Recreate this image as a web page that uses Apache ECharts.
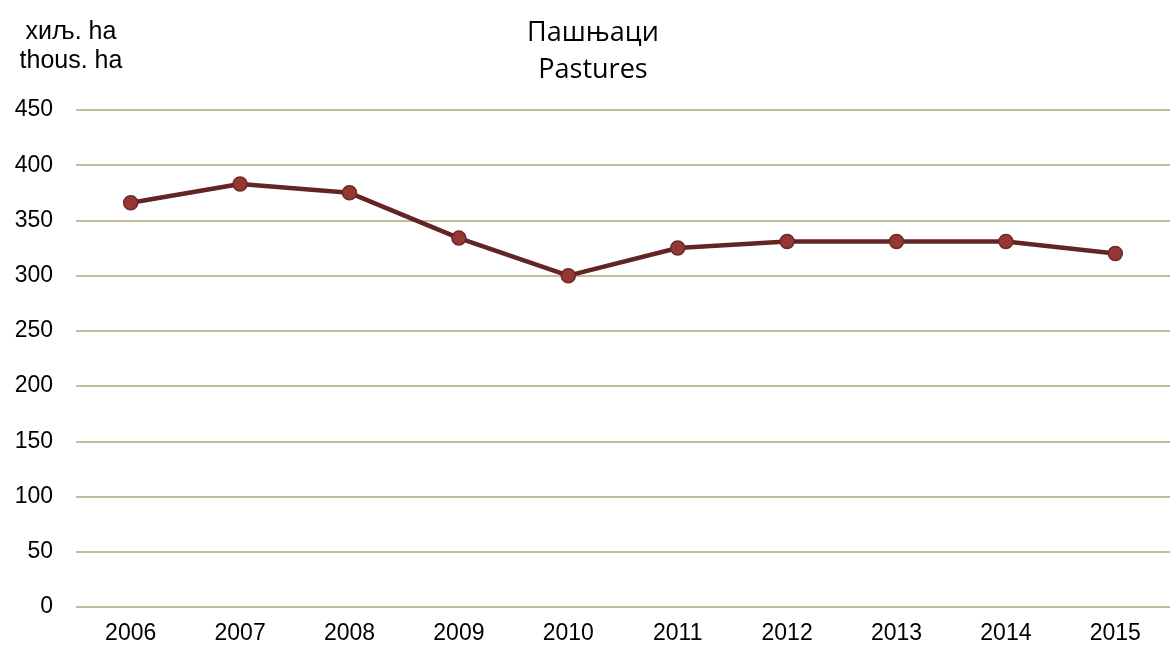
<!DOCTYPE html>
<html><head><meta charset="utf-8">
<script src="https://cdn.jsdelivr.net/npm/echarts@6/dist/echarts.min.js"></script>
<style>html,body{margin:0;padding:0;background:#fff}#c{width:1170px;height:646px}</style>
</head><body><div id="c"></div>
<script>
const years = ['2006','2007','2008','2009','2010','2011','2012','2013','2014','2015'];
const pastures = [366, 383, 375, 334, 300, 325, 331, 331, 331, 320];
const yTicks = [0, 50, 100, 150, 200, 250, 300, 350, 400, 450];
const titleLines = ['Пашњаци', 'Pastures'];
const unitLines = ['хиљ. ha', 'thous. ha'];

const chart = echarts.init(document.getElementById('c'));
chart.setOption({
  animation: false,
  backgroundColor: '#fff',
  title: [{
    text: titleLines.join('\n'),
    left: 588, top: 10, textAlign: 'center',
    textStyle: { fontFamily: 'Open Sans', fontWeight: 'normal', fontSize: 27, color: '#000', lineHeight: 37 }
  }, {
    text: unitLines.join('\n'),
    left: 66, top: 13, textAlign: 'center',
    textStyle: { fontFamily: 'Liberation Sans', fontWeight: 'normal', fontSize: 25, color: '#000', lineHeight: 29 }
  }],
  grid: { left: 76, top: 110, width: 1101, bottom: 39 },
  xAxis: {
    type: 'category', data: years, boundaryGap: true,
    axisLine: { show: false }, axisTick: { show: false },
    axisLabel: { fontFamily: 'Liberation Sans', fontSize: 23, color: '#000', margin: 15 }
  },
  yAxis: {
    type: 'value', min: yTicks[0], max: yTicks[yTicks.length - 1], interval: 50,
    axisLine: { show: false }, axisTick: { show: false },
    axisLabel: { fontFamily: 'Liberation Sans', fontSize: 23, color: '#000', margin: 23 },
    splitLine: { lineStyle: { color: '#C4BD97', width: 2 } }
  },
  series: [{
    type: 'line', data: pastures,
    lineStyle: { color: '#632523', width: 4.5 },
    symbol: 'circle', symbolSize: 14,
    itemStyle: { color: '#953735', borderColor: '#6B2A28', borderWidth: 1.5 }
  }]
});
</script></body></html>
